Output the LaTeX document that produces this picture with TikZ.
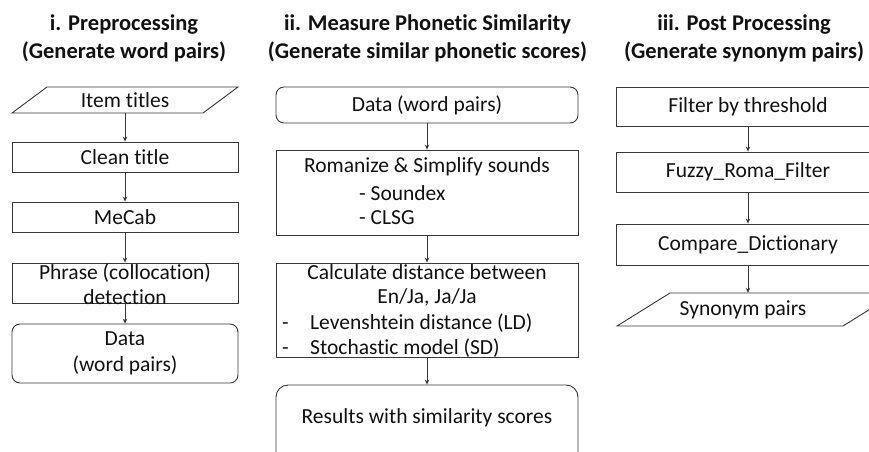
\documentclass[tikz,border=0pt]{standalone}
\usepackage{fontspec}
\setmainfont{Carlito}[Ligatures=NoCommon]
\usetikzlibrary{arrows.meta}
\definecolor{ln}{HTML}{383838}
\definecolor{tx}{HTML}{111111}
\begin{document}
\begin{tikzpicture}[x=1pt,y=-1pt,
  every node/.style={font=\fontsize{21.5}{25.5}\selectfont, text=tx},
  box/.style={draw=ln, line width=0.9pt, rectangle, inner sep=0pt, align=center},
  rbox/.style={box, rounded corners=8pt},
  lbl/.style={inner sep=0pt, align=center},
  ttl/.style={inner sep=0pt, align=center, font=\bfseries\fontsize{22.5}{28}\selectfont},
  para/.style={draw=ln, line width=0.9pt, line join=miter},
  arr/.style={draw=ln, line width=0.8pt, -{Stealth[length=5pt,width=4.5pt]}}
]
\useasboundingbox (0,0) rectangle (869,451);
\clip (0,0) rectangle (869,451);
\fill[white] (0,0) rectangle (869,451);

% titles
\node[ttl] (t1) at (124,38) {i. Preprocessing\\(Generate word pairs)};
\node[ttl] (t2) at (427.5,38) {ii. Measure Phonetic Similarity\\(Generate similar phonetic scores)};
\node[ttl] (t3) at (744,38) {iii. Post Processing\\(Generate synonym pairs)};

% column 1
\node[lbl, minimum width=191pt, minimum height=26pt] (items) at (125,100) {Item titles};
\draw[para] (12,113) -- (203,113) -- (238,87) -- (47,87) -- cycle;
\node[box, minimum width=226pt, minimum height=30pt] (clean) at (125,157) {Clean title};
\node[box, minimum width=226pt, minimum height=30pt] (mecab) at (125,217) {MeCab};
\node[box, minimum width=226pt, minimum height=40pt] (phrase) at (125,283) {};
\node[lbl] (phraset) at (125,284) {Phrase (collocation)\\detection};
\node[rbox, minimum width=226pt, minimum height=59pt] (data1) at (125,353.5) {Data\\(word pairs)};

\draw[arr] (items.south) -- (clean.north);
\draw[arr] (clean.south) -- (mecab.north);
\draw[arr] (mecab.south) -- (phrase.north);
\draw[arr] (phrase.south) -- (data1.north);

% column 2
\node[rbox, minimum width=302pt, minimum height=36pt] (data2) at (427,105) {Data (word pairs)};
\node[box, minimum width=302pt, minimum height=85pt] (rom) at (427,192.5) {};
\node[lbl] (rom1) at (427,167) {Romanize \& Simplify sounds};
\node[lbl, anchor=west] (rom2) at (359,193) {- Soundex};
\node[lbl, anchor=west] (rom3) at (359,218) {- CLSG};
\node[box, minimum width=302pt, minimum height=94pt] (calc) at (427,310) {};
\node[lbl] (calc1) at (427,272) {Calculate distance between};
\node[lbl] (calc2) at (427,297) {En/Ja, Ja/Ja};
\node[lbl, anchor=base west] (calc3d) at (282,329) {-};
\node[lbl, anchor=base west] (calc3) at (310,329) {Levenshtein distance (LD)};
\node[lbl, anchor=base west] (calc4d) at (282,354) {-};
\node[lbl, anchor=base west] (calc4) at (310,354) {Stochastic model (SD)};
\node[box, rounded corners=12pt, minimum width=302pt, minimum height=90pt] (res) at (427,430) {};
\node[lbl] (rest) at (427,418) {Results with similarity scores};

\draw[arr] (data2.south) -- (rom.north);
\draw[arr] (rom.south) -- (calc.north);
\draw[arr] (calc.south) -- (res.north);

% column 3
\node[box, minimum width=264pt, minimum height=39pt] (filt) at (748,106.5) {Filter by threshold};
\node[box, minimum width=264pt, minimum height=40pt] (fuzzy) at (748,172) {Fuzzy\_Roma\_Filter};
\node[box, minimum width=264pt, minimum height=41pt] (comp) at (748,244.5) {Compare\_Dictionary};
\node[lbl, minimum width=180pt, minimum height=33pt] (syn) at (743,309.5) {Synonym pairs};
\draw[para] (617,326) -- (843,326) -- (896,293) -- (670,293) -- cycle;

\draw[arr] (filt.south) -- (fuzzy.north);
\draw[arr] (fuzzy.south) -- (comp.north);
\draw[arr] (comp.south) -- (comp.south |- syn.north);
\end{tikzpicture}
\end{document}
